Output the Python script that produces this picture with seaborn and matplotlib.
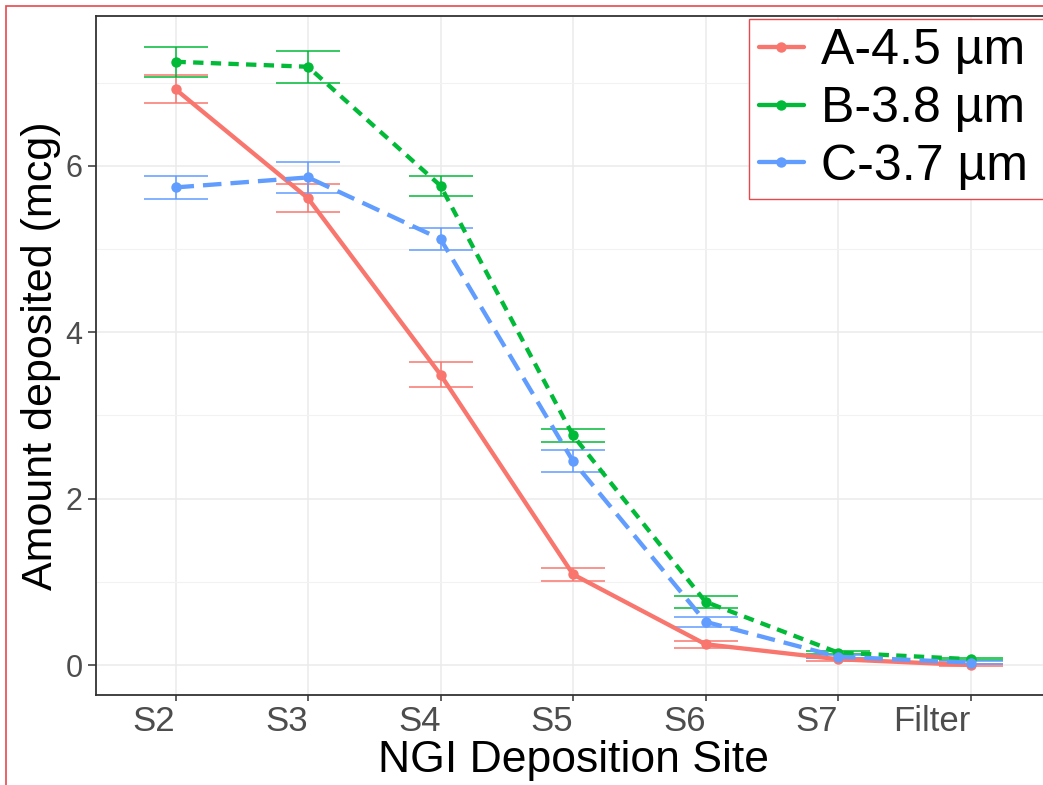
import numpy as np
import pandas as pd
import matplotlib
matplotlib.use("Agg")
import matplotlib.pyplot as plt
from matplotlib.lines import Line2D
from matplotlib.patches import Rectangle
import seaborn as sns

# NGI stage deposition, mean and error per formulation
sites = ["S2", "S3", "S4", "S5", "S6", "S7", "Filter"]
labels = ["A-4.5 µm", "B-3.8 µm", "C-3.7 µm"]
amount_a = [6.92, 5.61, 3.49, 1.09, 0.25, 0.07, 0.00]
err_a = [0.17, 0.17, 0.15, 0.08, 0.04, 0.02, 0.01]
amount_b = [7.25, 7.19, 5.76, 2.76, 0.76, 0.15, 0.07]
err_b = [0.18, 0.19, 0.12, 0.08, 0.07, 0.02, 0.01]
amount_c = [5.74, 5.86, 5.12, 2.45, 0.52, 0.10, 0.03]
err_c = [0.14, 0.19, 0.13, 0.135, 0.06, 0.02, 0.02]

colors = ["#F8766D", "#00BA38", "#619CFF"]
palette = dict(zip(labels, colors))
dashes = {labels[0]: "", labels[1]: (2.4, 1.7), labels[2]: (4.3, 2.1)}

df = pd.DataFrame({
    "site": sites * 3,
    "amount": amount_a + amount_b + amount_c,
    "err": err_a + err_b + err_c,
    "sample": np.repeat(labels, len(sites)),
})

sns.set_theme(style="white")
plt.rcParams["font.family"] = ["Liberation Sans", "DejaVu Sans"]

W, H = 1043, 785
fig = plt.figure(figsize=(W / 100, H / 100), dpi=100)
left_px, right_px, top_px, bot_px = 96, 1050, 16, 695
ax = fig.add_axes([left_px / W, 1 - bot_px / H,
                   (right_px - left_px) / W, (bot_px - top_px) / H])

# error bars first, lines and points on top
xpos = np.arange(len(sites))
for lab, sub in df.groupby("sample", sort=False):
    ax.errorbar(xpos, sub["amount"].to_numpy(), yerr=sub["err"].to_numpy(),
                fmt="none", ecolor=palette[lab], elinewidth=1.1,
                capsize=23, capthick=1.1, zorder=3)

sns.lineplot(data=df, x="site", y="amount", hue="sample", style="sample",
             palette=palette, dashes=dashes, markers={l: "o" for l in labels},
             markersize=7.5, markeredgewidth=0, linewidth=3.1, sort=False,
             legend=False, ax=ax, zorder=4)

ax.set_xlim(-0.6, 6.6)
ax.set_ylim(-0.36, 7.8)
ax.set_yticks([0, 2, 4, 6])
ax.set_yticks([1, 3, 5, 7], minor=True)
ax.set_xticks(xpos)
ax.set_xticklabels(sites, ha="right")

ax.grid(True, which="major", color="#EBEBEB", linewidth=1.1)
ax.grid(True, which="minor", axis="y", color="#F2F2F2", linewidth=0.8)
ax.set_axisbelow(True)
for sp in ax.spines.values():
    sp.set_color("#333333")
    sp.set_linewidth(1.3)
ax.spines["right"].set_visible(False)

ax.tick_params(axis="x", which="major", length=4.5, width=1.1, color="#333333",
               labelsize=25, labelcolor="#4D4D4D", pad=3, bottom=True)
ax.tick_params(axis="y", which="major", length=5.8, width=1.1, color="#333333",
               labelsize=22, labelcolor="#4D4D4D", pad=4, left=True)
ax.tick_params(axis="y", which="minor", length=0)

ax.set_xlabel("NGI Deposition Site", fontsize=32, color="black", labelpad=1)
ax.set_ylabel("Amount deposited (mcg)", fontsize=31, color="black", labelpad=3)

handles = [Line2D([0], [0], color=c, lw=3.1, marker="o", markersize=7.5,
                  markeredgewidth=0) for c in colors]
leg = ax.legend(handles, labels, loc="upper left", mode="expand",
                bbox_to_anchor=(749 / W, 1 - 19 / H, 330 / W, 0),
                bbox_transform=fig.transFigure,
                fontsize=36, frameon=True, fancybox=False, framealpha=1,
                edgecolor="#E8474C", borderaxespad=0, borderpad=0.19,
                handlelength=0.9, handletextpad=0.35, labelspacing=0.23)
leg.get_frame().set_linewidth(1.0)
for t in leg.get_texts():
    t.set_color("black")
leg.set_zorder(10)

# outer red frame
fig.patches.append(Rectangle((6 / W, -0.1), 1.2, 1 - 6 / H + 0.1,
                             transform=fig.transFigure, fill=False,
                             edgecolor="#E8474C", linewidth=1.2))

fig.savefig("out.png", dpi=100)
